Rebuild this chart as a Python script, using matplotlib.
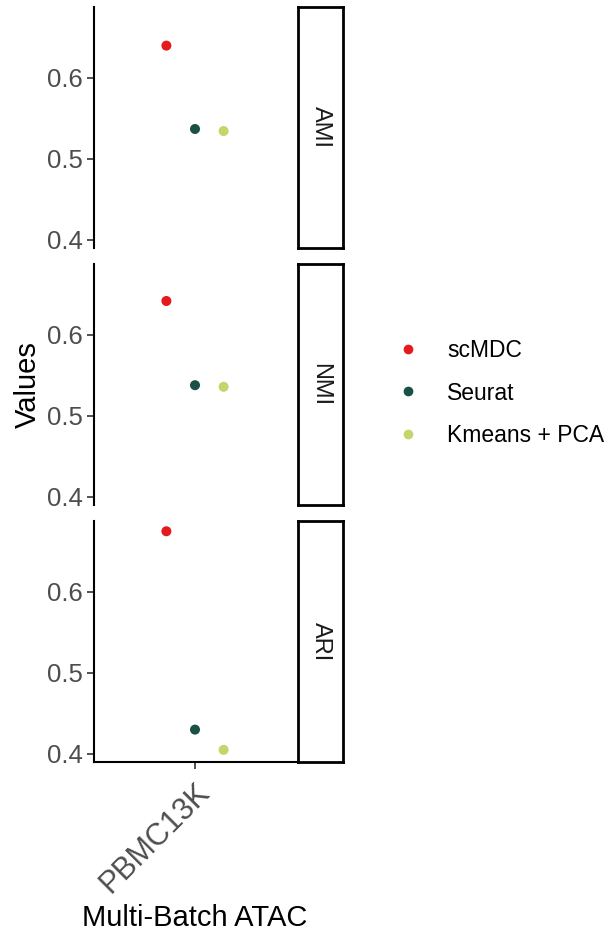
import matplotlib.pyplot as plt
from matplotlib.lines import Line2D

plt.rcParams['font.family'] = ['Liberation Sans', 'DejaVu Sans']

# data
metrics = ["AMI", "NMI", "ARI"]
methods = ["scMDC", "Seurat", "Kmeans + PCA"]
colors = ["#E41A1C", "#1B5145", "#C6D46C"]
dataset = ["PBMC13K"]
ami = [0.640, 0.537, 0.5345]
nmi = [0.642, 0.538, 0.536]
ari = [0.675, 0.430, 0.405]
values = [ami, nmi, ari]
offsets = [-0.17, 0.0, 0.17]

W, H = 613, 941
fig = plt.figure(figsize=(W / 100, H / 100), dpi=100)

left, right = 94, 296
strip_l, strip_r = 298, 343
tops = [7, 264, 521]
ph = 241

for i, (m, vals) in enumerate(zip(metrics, values)):
    top = tops[i]
    ax = fig.add_axes([left / W, 1 - (top + ph) / H, (right - left) / W, ph / H])
    for j, (meth, v) in enumerate(zip(methods, vals)):
        ax.scatter(1 + offsets[j], v, s=52, color=colors[j], edgecolors="none", zorder=3)
    ax.set_xlim(0.4, 1.6)
    ax.set_ylim(0.390, 0.6877)
    ax.set_yticks([0.4, 0.5, 0.6])
    ax.set_yticklabels(["0.4", "0.5", "0.6"])
    for s in ["top", "right"]:
        ax.spines[s].set_visible(False)
    ax.spines["left"].set_linewidth(1.5)
    ax.tick_params(axis="y", labelsize=18.5, labelcolor="#4D4D4D", length=5,
                   width=1.2, color="#333333", pad=3)
    if i < 2:
        ax.spines["bottom"].set_visible(False)
        ax.set_xticks([])
    else:
        ax.spines["bottom"].set_linewidth(1.5)
        ax.set_xticks([1])
        ax.set_xticklabels(dataset, rotation=45, ha="right", va="top",
                           rotation_mode="anchor", fontsize=22, color="#4D4D4D")
        ax.tick_params(axis="x", length=5, width=1.2, color="#333333", pad=6)

    # strip box
    sax = fig.add_axes([strip_l / W, 1 - (top + ph) / H, (strip_r - strip_l) / W, ph / H])
    sax.set_xticks([])
    sax.set_yticks([])
    for s in sax.spines.values():
        s.set_linewidth(2)
        s.set_color("black")
    sax.text(0.5, 0.5, m, rotation=270, ha="center", va="center",
             fontsize=17, color="#1A1A1A", transform=sax.transAxes)

fig.text(195 / W, 1 - 918 / H, "Multi-Batch ATAC", ha="center", va="center", fontsize=21)
fig.text(28 / W, 1 - 385 / H, "Values", rotation=90, ha="center", va="center", fontsize=21)

handles = [Line2D([], [], marker="o", linestyle="none", markersize=7,
                  markerfacecolor=c, markeredgecolor="none") for c in colors]
fig.legend(handles, methods, loc="center left", bbox_to_anchor=(397 / W, 1 - 393 / H),
           frameon=False, fontsize=16.5, handletextpad=1.2, labelspacing=0.85,
           handlelength=1.0, borderpad=0, borderaxespad=0)

fig.savefig("out.png", dpi=100)
